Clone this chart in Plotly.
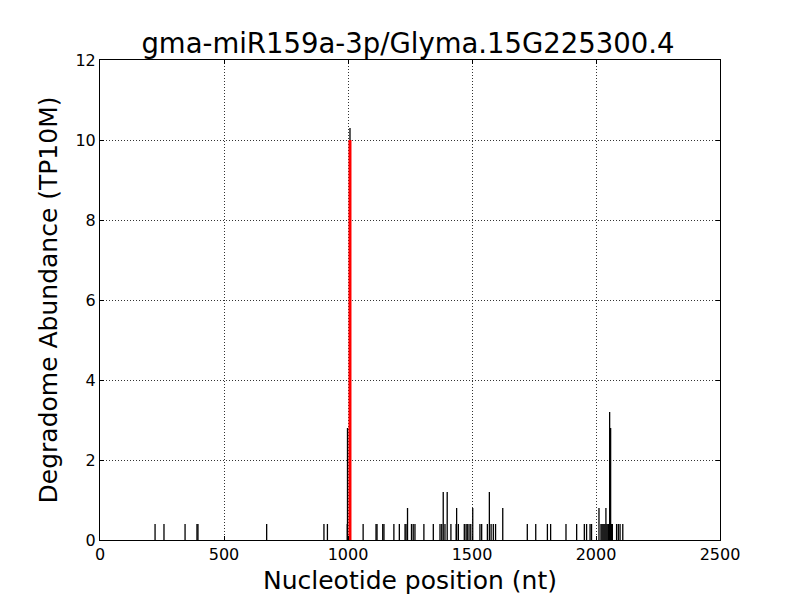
import plotly.graph_objects as go

positions = [222, 258, 343, 391, 395, 672, 903, 917, 997, 998, 1008, 1061, 1113, 1117,
             1140, 1145, 1185, 1207, 1230, 1234, 1240, 1256, 1263, 1270, 1306, 1344,
             1371, 1378, 1384, 1391, 1400, 1415, 1436, 1438, 1445, 1469, 1476, 1481,
             1488, 1495, 1503, 1532, 1539, 1562, 1570, 1577, 1586, 1595, 1624, 1723,
             1757, 1804, 1817, 1879, 1922, 1953, 1962, 1976, 1982, 2012, 2020, 2024,
             2028, 2032, 2036, 2040, 2044, 2048, 2051, 2055, 2059, 2062, 2066, 2083,
             2090, 2097, 2108]
abundance = [0.4, 0.4, 0.4, 0.4, 0.4, 0.4, 0.4, 0.4, 0.4, 2.8, 10.3, 0.4, 0.4, 0.4,
             0.4, 0.4, 0.4, 0.4, 0.4, 0.4, 0.8, 0.4, 0.4, 0.4, 0.4, 0.4,
             0.4, 0.4, 1.2, 0.4, 1.2, 0.4, 0.4, 0.8, 0.4, 0.4, 0.4, 0.4,
             0.4, 0.4, 0.8, 0.4, 0.4, 0.4, 1.2, 0.4, 0.4, 0.4, 0.8, 0.4,
             0.4, 0.4, 0.4, 0.4, 0.4, 0.4, 0.4, 0.4, 0.4, 0.8, 0.4, 0.4,
             0.4, 0.4, 0.4, 0.8, 0.4, 0.4, 0.4, 3.2, 2.8, 0.4, 0.4, 0.4,
             0.4, 0.4, 0.4]
cleavage_position = [1008]
cleavage_abundance = [10.0]

x_ticks = [0, 500, 1000, 1500, 2000, 2500]
y_ticks = [0, 2, 4, 6, 8, 10, 12]

xs, ys = [], []
for p, a in zip(positions, abundance):
    xs += [p, p, None]
    ys += [0, a, None]

cx, cy = [], []
for p, a in zip(cleavage_position, cleavage_abundance):
    cx += [p, p, None]
    cy += [0, a, None]

fig = go.Figure()
fig.add_trace(go.Scatter(x=xs, y=ys, mode="lines", line=dict(color="black", width=1.3),
                         hoverinfo="skip", showlegend=False))
fig.add_trace(go.Scatter(x=cx, y=cy, mode="lines", line=dict(color="red", width=3),
                         hoverinfo="skip", showlegend=False))

axis_common = dict(showline=True, linecolor="black", linewidth=1, mirror="ticks",
                   ticks="inside", ticklen=4, tickcolor="black",
                   showgrid=True, gridcolor="#333333", griddash="1px,2px", gridwidth=1,
                   zeroline=False, tickfont=dict(size=16, color="black"))

fig.update_layout(
    width=800, height=600,
    paper_bgcolor="white", plot_bgcolor="white",
    font=dict(family="DejaVu Sans", color="black"),
    margin=dict(l=92, r=88, t=52, b=68),
    title=dict(text="gma-miR159a-3p/Glyma.15G225300.4", x=0.5, xanchor="center",
               yref="container", y=1 - 35 / 600, yanchor="middle", font=dict(size=27.5)),
    xaxis=dict(range=[0, 2500], tickvals=x_ticks,
               title=dict(text="Nucleotide position (nt)", font=dict(size=25), standoff=8),
               **axis_common),
    yaxis=dict(range=[0, 12], tickvals=y_ticks,
               title=dict(text="Degradome Abundance (TP10M)", font=dict(size=25), standoff=10),
               **axis_common),
)

fig.write_html("out.html")
